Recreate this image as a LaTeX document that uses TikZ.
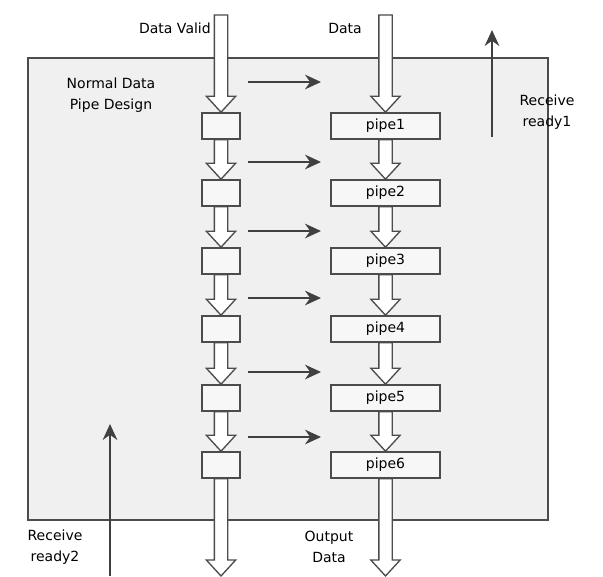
\documentclass[tikz,border=0pt]{standalone}
\usepackage{fontspec}
\setmainfont{DejaVu Sans}
\usetikzlibrary{calc,positioning,arrows.meta}

\tikzset{
  frame/.style={draw=black!70,line width=1.2pt,fill=black!6},
  stage/.style={draw=black!70,line width=1.2pt,fill=black!3,inner sep=0pt,
    minimum height=19.5pt,font=\fontsize{10.5}{12}\selectfont},
  hollow/.style={draw=black!70,line width=1pt,fill=white},
  signal/.style={draw=black!75,line width=1.1pt,-{Stealth[length=12pt,width=11pt]}},
  lbl/.style={font=\fontsize{10.5}{15.5}\selectfont,align=center,inner sep=0pt}
}
% hollow bus arrow from #1 down/up to #2
\newcommand\busarrow[2]{%
  \draw[hollow] let \p1=#1, \p2=#2 in
    (\x1-5pt,\y1) -- (\x1-5pt,\y2+12pt) -- (\x1-11pt,\y2+12pt)
    -- (\x1,\y2) -- (\x1+11pt,\y2+12pt) -- (\x1+5pt,\y2+12pt)
    -- (\x1+5pt,\y1) -- cycle;}

\begin{document}
\begin{tikzpicture}[x=0.75pt,y=-0.75pt]
  \useasboundingbox (0,0) rectangle (603,576);
  % block
  \draw[frame] (28,58) rectangle (548,520);
  % stages
  \foreach \i/\y in {1/126,2/193,3/261,4/329,5/398,6/465} {
    \node[stage,minimum width=28.5pt] (valid\i) at (221,\y) {};
    \node[stage,minimum width=82pt] (pipe\i) at (385.5,\y) {pipe\i};
  }
  % bus arrows
  \coordinate (valid in) at (221,15);
  \coordinate (data in) at (385.5,15);
  \coordinate (valid out) at (221,576);
  \coordinate (data out) at (385.5,576);
  \busarrow{(valid in)}{(valid1.north)}
  \busarrow{(data in)}{(pipe1.north)}
  \foreach \i [evaluate=\i as \j using int(\i+1)] in {1,...,5} {
    \busarrow{(valid\i.south)}{(valid\j.north)}
    \busarrow{(pipe\i.south)}{(pipe\j.north)}
  }
  \busarrow{(valid6.south)}{(valid out)}
  \busarrow{(pipe6.south)}{(data out)}
  % valid to pipe
  \foreach \y in {82,162,231,298,372,437}
    \draw[signal] (248,\y) -- (321,\y);
  % ready
  \coordinate (ready1 start) at (492,137);
  \coordinate (ready1 end) at (492,30);
  \coordinate (ready2 start) at (110,576);
  \coordinate (ready2 end) at (110,424);
  \draw[signal] (ready1 start) -- (ready1 end);
  \draw[signal] (ready2 start) -- (ready2 end);
  % labels
  \node[lbl,anchor=east] (valid label) at (211,28) {Data Valid};
  \node[lbl] (data label) at (345,28) {Data};
  \node[lbl] (title) at (111,95) {Normal Data\\Pipe Design};
  \node[lbl] (ready1 label) at (547,112) {Receive\\ready1};
  \node[lbl] (ready2 label) at (55,547) {Receive\\ready2};
  \node[lbl] (out label) at (329,547) {Output\\Data};
\end{tikzpicture}
\end{document}
